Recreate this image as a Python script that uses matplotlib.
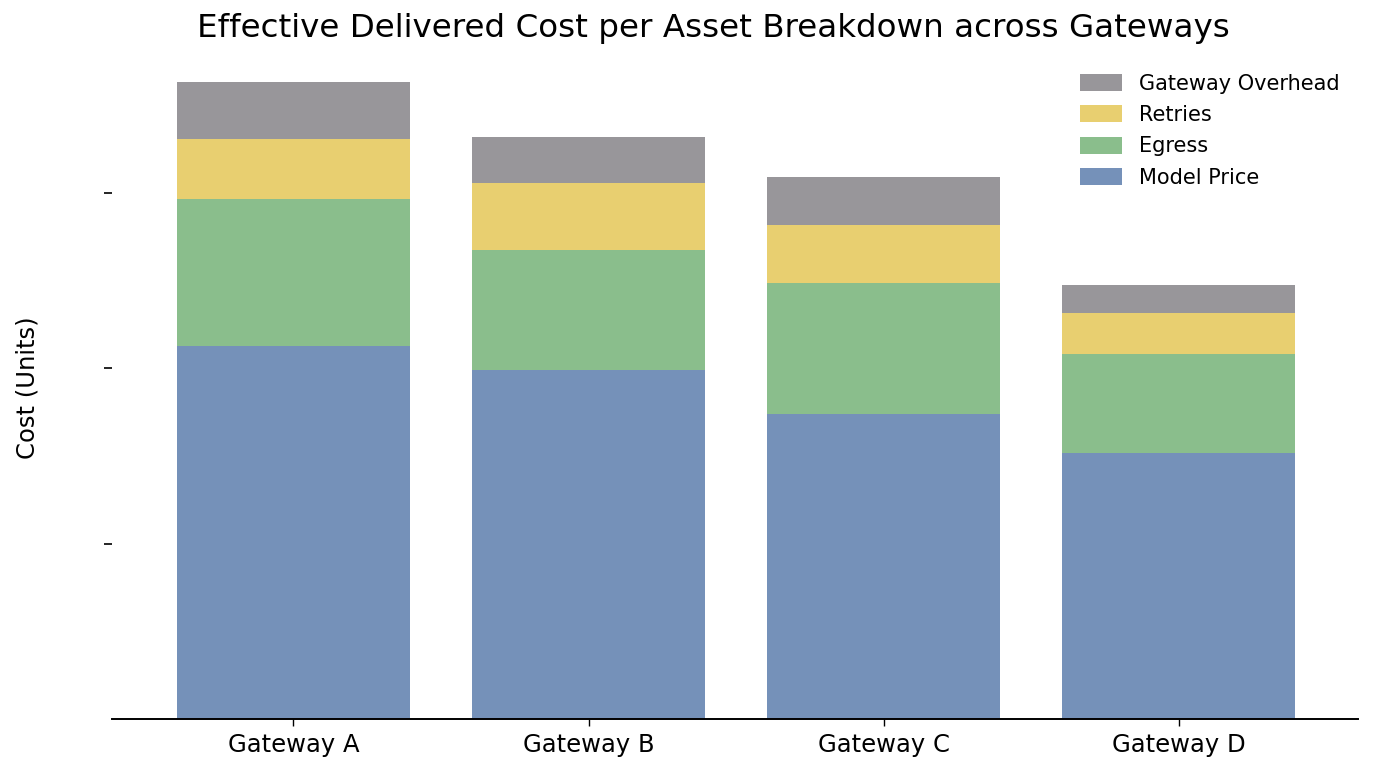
import numpy as np
import matplotlib.pyplot as plt

gateways = ["Gateway A", "Gateway B", "Gateway C", "Gateway D"]
model_price = [2.125, 1.989, 1.738, 1.516]
egress = [0.838, 0.684, 0.746, 0.564]
retries = [0.342, 0.382, 0.330, 0.234]
overhead = [0.325, 0.262, 0.274, 0.160]

colors = {
    "Model Price": "#7591b9",
    "Egress": "#8abe8c",
    "Retries": "#e8cf70",
    "Gateway Overhead": "#98969a",
}

fig = plt.figure(figsize=(13.76, 7.68), dpi=100)
ax = fig.add_axes([0.0814, 0.0638, 0.9056, 0.858])

x = np.arange(len(gateways))
w = 0.79
bottom = np.zeros(len(gateways))
handles = []
for name, vals in [("Model Price", model_price), ("Egress", egress),
                   ("Retries", retries), ("Gateway Overhead", overhead)]:
    b = ax.bar(x, vals, w, bottom=bottom, color=colors[name], label=name)
    handles.append(b)
    bottom += np.array(vals)

ax.set_xlim(-0.615, 3.608)
ax.set_ylim(0, 3.755)
ax.set_xticks(x)
ax.set_xticklabels(gateways, fontsize=17.5)
ax.set_yticks([1, 2, 3])
ax.set_yticklabels([])
ax.tick_params(axis="y", length=6, width=1.2, pad=4)
ax.tick_params(axis="x", length=5, width=1.0, pad=5)
for s in ["top", "right", "left"]:
    ax.spines[s].set_visible(False)
ax.spines["bottom"].set_linewidth(1.4)

fig.text(28 / 1376, 1 - 388 / 768, "Cost (Units)", rotation=90,
         ha="center", va="center", fontsize=17.5)
fig.text(713 / 1376, 1 - 28 / 768,
         "Effective Delivered Cost per Asset Breakdown across Gateways",
         ha="center", va="center", fontsize=23.4)

ax.legend(handles[::-1], [h.get_label() for h in handles[::-1]],
          loc="upper right", bbox_to_anchor=(1.0, 1.008), frameon=False,
          fontsize=15, handlelength=2.0, handleheight=0.9,
          labelspacing=0.55, handletextpad=0.8)

fig.savefig("out.png", dpi=100)
